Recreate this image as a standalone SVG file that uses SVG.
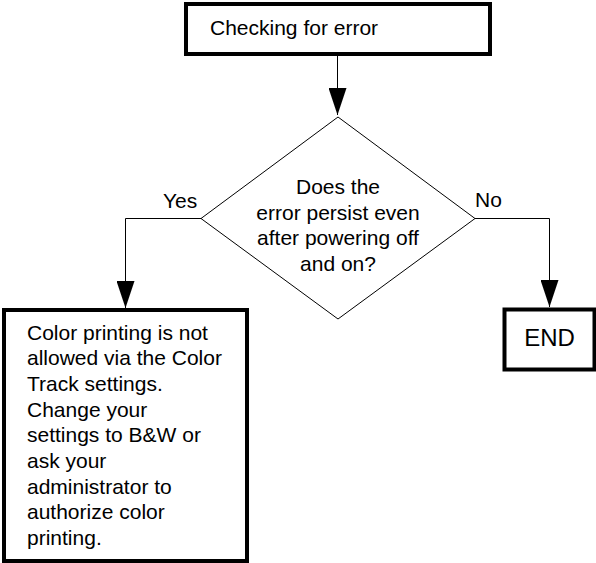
<svg xmlns="http://www.w3.org/2000/svg" width="596" height="563" viewBox="0 0 596 563">
<style>
.box{fill:#fff;stroke:#000;stroke-width:4}
.dia{fill:#fff;stroke:#000;stroke-width:1}
.t{font-family:"Liberation Sans",Arial,sans-serif;font-size:21px;fill:#000}
.c{text-anchor:middle}
.ln{fill:none;stroke:#000;stroke-width:1}
</style>
<defs>
<marker id="ah" markerUnits="userSpaceOnUse" markerWidth="27" markerHeight="18" refX="27" refY="9" orient="auto" viewBox="0 0 27 18">
<path d="M0,0 L27,9 L0,18 Z" fill="#000"/>
</marker>
</defs>
<rect width="596" height="563" fill="#fff"/>
<g id="connectors">
<path class="ln" d="M337.5,56 V115" marker-end="url(#ah)"/>
<path class="ln" d="M201,218.5 H125.5 V308" marker-end="url(#ah)"/>
<path class="ln" d="M475,218.5 H549.5 V307" marker-end="url(#ah)"/>
<text class="t" x="163" y="208">Yes</text>
<text class="t" x="475" y="207">No</text>
</g>
<g id="start">
<rect class="box" x="186" y="4" width="304" height="50"/>
<text class="t" x="210" y="35">Checking for error</text>
</g>
<g id="decision">
<polygon class="dia" points="338,117 475,218.5 338,319 201,218.5"/>
<text class="t c" x="338" y="194">Does the</text>
<text class="t c" x="338" y="219.5">error persist even</text>
<text class="t c" x="338" y="245">after powering off</text>
<text class="t c" x="338" y="270.5">and on?</text>
</g>
<g id="colorbox">
<rect class="box" x="4" y="310" width="243" height="251"/>
<text class="t" x="27" y="339.5">Color printing is not</text>
<text class="t" x="27" y="365.2">allowed via the Color</text>
<text class="t" x="27" y="390.9">Track settings.</text>
<text class="t" x="27" y="416.6">Change your</text>
<text class="t" x="27" y="442.3">settings to B&amp;W or</text>
<text class="t" x="27" y="468">ask your</text>
<text class="t" x="27" y="493.7">administrator to</text>
<text class="t" x="27" y="519.4">authorize color</text>
<text class="t" x="27" y="545">printing.</text>
</g>
<g id="end">
<rect class="box" x="504.5" y="309.5" width="90" height="60"/>
<text class="t c" x="549.5" y="346" style="font-size:24px">END</text>
</g>
</svg>
